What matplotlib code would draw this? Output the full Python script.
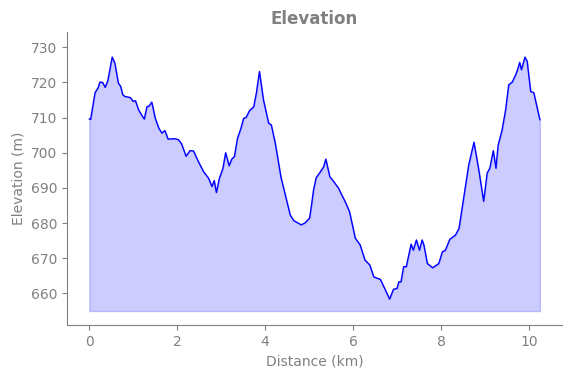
import numpy as np
import matplotlib
matplotlib.use("Agg")
import matplotlib.pyplot as plt

# distance along the track (km) and elevation (m)
dist = [0, 0.03, 0.13, 0.2, 0.24, 0.3, 0.36, 0.42, 0.52, 0.58, 0.66, 0.715, 0.76, 0.81,
        0.93, 1.0, 1.05, 1.12, 1.2, 1.25, 1.31, 1.36, 1.42, 1.5, 1.58, 1.65, 1.72, 1.79,
        1.94, 2.03, 2.1, 2.2, 2.29, 2.37, 2.48, 2.60, 2.71, 2.79, 2.84, 2.89, 2.96, 3.04,
        3.10, 3.18, 3.24, 3.30, 3.37, 3.45, 3.51, 3.57, 3.64, 3.74, 3.80, 3.87, 3.96, 4.08,
        4.14, 4.23, 4.36, 4.57, 4.65, 4.82, 4.91, 5.01, 5.05, 5.10, 5.16, 5.24, 5.33, 5.38,
        5.47, 5.56, 5.67, 5.73, 5.82, 5.92, 6.05, 6.16, 6.27, 6.38, 6.47, 6.62, 6.70, 6.83,
        6.92, 7.0, 7.04, 7.09, 7.15, 7.21, 7.32, 7.37, 7.44, 7.51, 7.57, 7.61, 7.69, 7.81,
        7.95, 8.03, 8.10, 8.20, 8.33, 8.41, 8.52, 8.63, 8.75, 8.86, 8.97, 9.05, 9.11, 9.19,
        9.25, 9.30, 9.39, 9.47, 9.54, 9.62, 9.70, 9.75, 9.79, 9.83, 9.91, 9.96, 10.04,
        10.11, 10.25]
elev = [709.6, 709.5, 717.1, 718.5, 720.1, 720.0, 718.6, 720.5, 727.2, 725.5, 719.8, 718.8,
        716.5, 716.0, 715.7, 714.6, 714.8, 712.2, 710.5, 709.6, 713.1, 713.3, 714.4, 709.8,
        707.0, 705.6, 706.3, 703.9, 704.0, 703.7, 702.5, 699.0, 700.6, 700.5, 697.5, 694.6,
        692.8, 690.4, 692.1, 688.7, 692.8, 695.6, 700.0, 696.3, 698.2, 698.9, 704.1, 707.0,
        709.8, 710.1, 711.9, 713.1, 717.0, 723.1, 715.1, 708.4, 707.9, 702.7, 693.0, 682.3,
        680.7, 679.5, 680.1, 681.4, 684.7, 689.4, 692.9, 694.3, 696.0, 698.2, 693.2, 691.8,
        689.9, 688.3, 686.1, 683.2, 675.7, 673.8, 669.5, 668.1, 664.7, 664.0, 661.9, 658.4,
        661.2, 661.4, 663.3, 663.3, 667.6, 667.6, 674.0, 672.3, 675.2, 672.3, 675.2, 673.8,
        668.5, 667.3, 668.5, 671.8, 672.3, 675.4, 676.6, 678.5, 687.5, 696.5, 703.0, 695.1,
        686.2, 694.2, 695.6, 700.6, 695.6, 702.2, 706.5, 712.2, 719.3, 720.1, 722.2, 723.9,
        725.7, 723.6, 727.2, 726.0, 717.4, 717.1, 709.4]
base = 655

grey = '#808080'

fig = plt.figure(figsize=(5.71, 3.78), dpi=100)
ax = fig.add_axes([0.117, 0.14, 0.868, 0.775])

ax.fill_between(dist, elev, base, color='blue', alpha=0.2)
ax.plot(dist, elev, color='blue', lw=1)

ax.set_ylim(651, 734.3)
ax.set_yticks(np.arange(660, 731, 10))

ax.set_title('Elevation', color=grey, fontweight='bold', fontsize=12)
ax.set_xlabel('Distance (km)', color=grey)
ax.set_ylabel('Elevation (m)', color=grey)

for s in ['top', 'right']:
    ax.spines[s].set_visible(False)
for s in ['left', 'bottom']:
    ax.spines[s].set_color(grey)
ax.tick_params(colors=grey)

fig.savefig('out.png', dpi=100)
